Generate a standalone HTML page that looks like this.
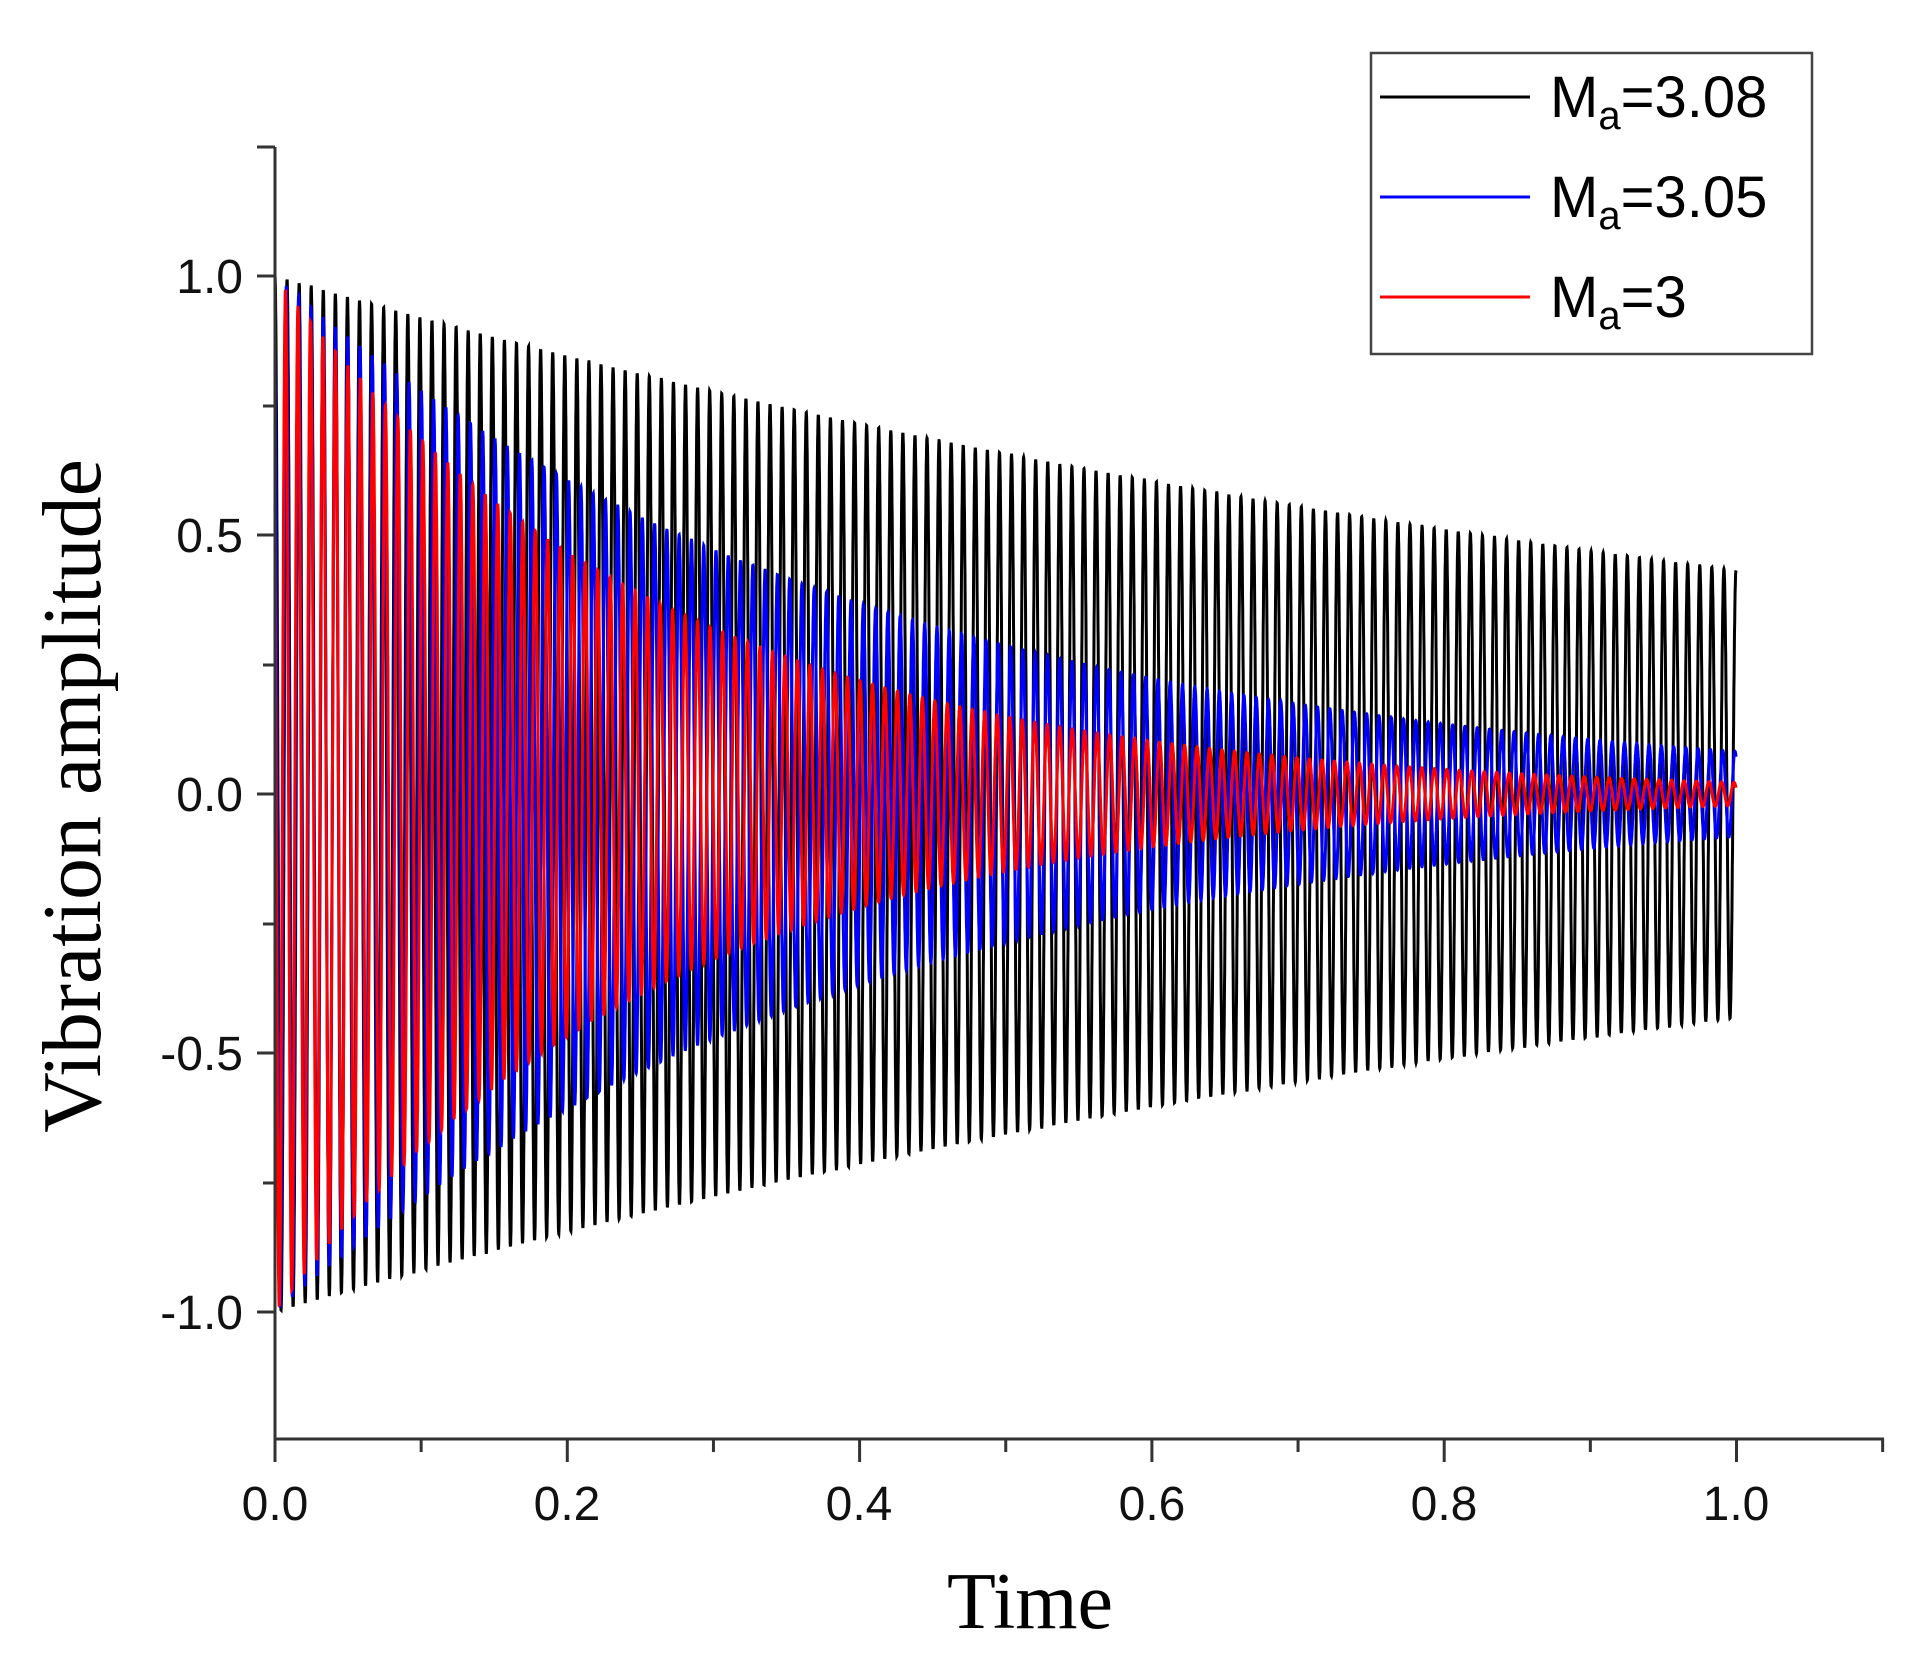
<!DOCTYPE html>
<html><head><meta charset="utf-8"><style>
html,body{margin:0;padding:0;background:#fff;}
svg{display:block;}
</style></head><body>
<svg id="s" width="1926" height="1658" viewBox="0 0 1926 1658" xmlns="http://www.w3.org/2000/svg">
<g id="series"></g>
<g stroke="#333" stroke-width="3" fill="none">
<line x1="275" y1="147" x2="275" y2="1439"/>
<line x1="275" y1="1439" x2="1884" y2="1439"/>
<line x1="257" y1="147" x2="275" y2="147"/>
<line x1="257" y1="276" x2="275" y2="276"/>
<line x1="263" y1="406" x2="275" y2="406"/>
<line x1="257" y1="535" x2="275" y2="535"/>
<line x1="263" y1="665" x2="275" y2="665"/>
<line x1="257" y1="794" x2="275" y2="794"/>
<line x1="263" y1="924" x2="275" y2="924"/>
<line x1="257" y1="1053" x2="275" y2="1053"/>
<line x1="263" y1="1183" x2="275" y2="1183"/>
<line x1="257" y1="1312" x2="275" y2="1312"/>
</g>
<g id="xt" stroke="#333" stroke-width="3"></g>
<g font-family="Liberation Sans, sans-serif" font-size="48" fill="#111">
<text x="243" y="293" text-anchor="end">1.0</text>
<text x="243" y="552" text-anchor="end">0.5</text>
<text x="243" y="811" text-anchor="end">0.0</text>
<text x="243" y="1070" text-anchor="end">-0.5</text>
<text x="243" y="1329" text-anchor="end">-1.0</text>
<g text-anchor="middle">
<text x="275" y="1520">0.0</text>
<text x="567" y="1520">0.2</text>
<text x="859" y="1520">0.4</text>
<text x="1152" y="1520">0.6</text>
<text x="1444" y="1520">0.8</text>
<text x="1736" y="1520">1.0</text>
</g>
</g>
<text x="1030" y="1628" text-anchor="middle" font-family="Liberation Serif, serif" font-size="80" fill="#000">Time</text>
<text transform="translate(100,796) rotate(-90)" text-anchor="middle" font-family="Liberation Serif, serif" font-size="84" fill="#000">Vibration amplitude</text>
<rect x="1371" y="53" width="441" height="301" fill="#fff" stroke="#444" stroke-width="2.5"/>
<g stroke-width="3">
<line x1="1380" y1="97" x2="1530" y2="97" stroke="#000"/>
<line x1="1380" y1="197" x2="1530" y2="197" stroke="#00f"/>
<line x1="1380" y1="297" x2="1530" y2="297" stroke="#f00"/>
</g>
<g font-family="Liberation Sans, sans-serif" font-size="58" fill="#000">
<text x="1550" y="117">M<tspan font-size="40" dy="12">a</tspan><tspan dy="-12">=3.08</tspan></text>
<text x="1550" y="217">M<tspan font-size="40" dy="12">a</tspan><tspan dy="-12">=3.05</tspan></text>
<text x="1550" y="317">M<tspan font-size="40" dy="12">a</tspan><tspan dy="-12">=3</tspan></text>
</g>
</svg>
<script>
(function(){
var NS="http://www.w3.org/2000/svg";
var xt=document.getElementById('xt');
for(var i=0;i<=11;i++){var x=275+i*0.1*1461.5;var l=document.createElementNS(NS,'line');
l.setAttribute('x1',x);l.setAttribute('x2',x);l.setAttribute('y1',1439);l.setAttribute('y2',i%2==0?1462:1452);xt.appendChild(l);}
var g=document.getElementById('series');
function X(t){return 275+t*1461;} function Y(v){return 794-v*518;}
function series(col,dec,f,phase,w){
 var d="",N=12000;
 for(var i=0;i<=N;i++){var t=i/N;var a=Math.exp(-dec*t);
  var v=a*Math.cos(2*Math.PI*f*t+phase);
  d+=(i?"L":"M")+X(t).toFixed(1)+" "+Y(v).toFixed(1);}
 var p=document.createElementNS(NS,'path');p.setAttribute('d',d);p.setAttribute('stroke',col);
 p.setAttribute('stroke-width',w);p.setAttribute('fill','none');g.appendChild(p);
}
series('#000',0.84,121,0,'3');
series('#00f',2.5,119,0.5,'3');
series('#f00',3.8,117,1.0,'3');
})();
</script>
</body></html>
